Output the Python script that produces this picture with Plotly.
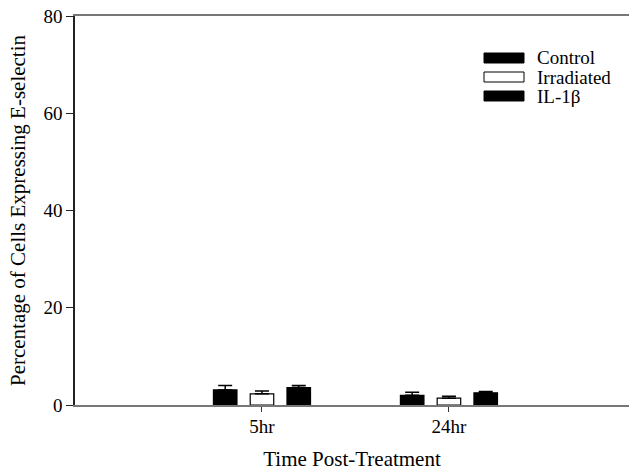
import plotly.graph_objects as go

categories = ["5hr", "24hr"]
x_pos = [0, 1]
control = [3.1, 2.0]
control_err = [0.9, 0.6]
irradiated = [2.3, 1.4]
irradiated_err = [0.6, 0.4]
il1b = [3.6, 2.5]
il1b_err = [0.4, 0.3]
series_names = ["Control", "Irradiated", "IL-1β"]
y_ticks = [0, 20, 40, 60, 80]

FONT = "Liberation Serif, Times New Roman, serif"

L, T, W, H = 75, 16, 554, 389   # plot area in window pixels

fig = go.Figure()
specs = [
    (series_names[0], control, control_err, "black"),
    (series_names[1], irradiated, irradiated_err, "white"),
    (series_names[2], il1b, il1b_err, "black"),
]
for name, vals, errs, fill in specs:
    fig.add_trace(go.Bar(
        x=x_pos, y=vals, name=name,
        marker=dict(color=fill, line=dict(color="black", width=1.2)),
        error_y=dict(type="data", array=errs, arrayminus=[0] * len(errs),
                     symmetric=False, color="black", thickness=1.5, width=7),
        showlegend=False,
    ))

# legend drawn manually to reproduce wide swatches
leg_rows = [58, 77, 96]
fills = ["black", "white", "black"]
for name, py, fill in zip(series_names, leg_rows, fills):
    fig.add_shape(type="rect", xref="paper", yref="paper",
                  x0=(484 - L) / W, x1=(524 - L) / W,
                  y0=(T + H - (py + 5)) / H, y1=(T + H - (py - 5)) / H,
                  fillcolor=fill, line=dict(color="black", width=1))
    fig.add_annotation(xref="paper", yref="paper",
                       x=(535 - L) / W, y=(T + H - py) / H,
                       text=name, showarrow=False, xanchor="left", yanchor="middle",
                       font=dict(family=FONT, size=19, color="black"))

fig.update_layout(
    width=629, height=472,
    margin=dict(l=L, r=0, t=T, b=472 - T - H, autoexpand=False),
    paper_bgcolor="white", plot_bgcolor="white",
    barmode="group", bargap=0.41, bargroupgap=0.36,
    font=dict(family=FONT, size=19, color="black"),
    showlegend=False,
)
fig.update_xaxes(
    range=[-1.0, 1.963], tickvals=x_pos, ticktext=categories,
    showline=True, mirror=True, linecolor="#777", linewidth=1.5,
    ticks="outside", ticklen=5, tickcolor="#333", tickwidth=1,
    showgrid=False, zeroline=False,
    title=dict(text="Time Post-Treatment", font=dict(size=21), standoff=16),
    tickfont=dict(size=19), ticklabelstandoff=-2,
)
fig.update_yaxes(
    range=[0, 80], tickvals=y_ticks,
    showline=True, linecolor="#222", linewidth=1.5,
    ticks="outside", ticklen=7, tickcolor="#222", tickwidth=1,
    showgrid=False, zeroline=False,
    title=dict(text="Percentage of Cells Expressing E-selectin", font=dict(size=21), standoff=12),
    tickfont=dict(size=19),
)

fig.write_html(
    "out.html",
    config={"displayModeBar": False},
    post_script="document.body.style.margin='0';document.body.style.overflow='hidden';",
)
